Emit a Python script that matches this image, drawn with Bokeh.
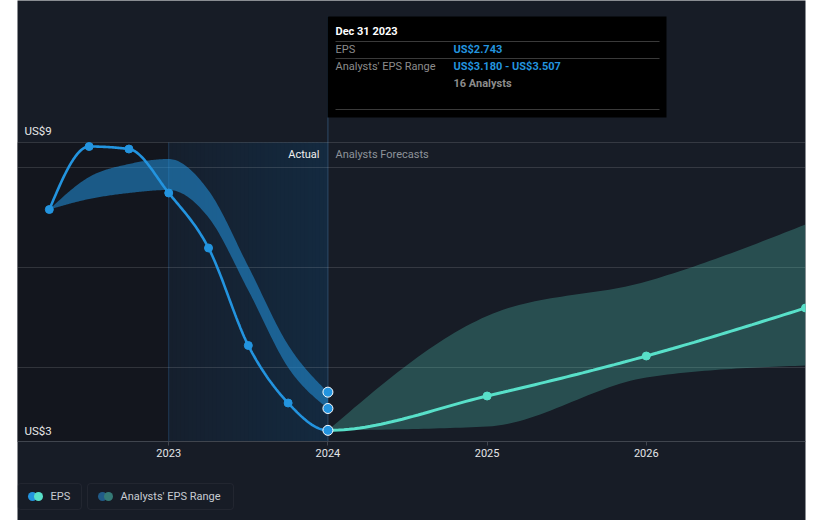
import numpy as np
from bokeh.plotting import figure
from bokeh.models import Range1d, FixedTicker, Grid, LinearAxis, Label, BoxAnnotation
from bokeh.embed import file_html
from bokeh.resources import INLINE

# ---------------- data ----------------
past_dates = [2022.25, 2022.5, 2022.75, 2023.0, 2023.25, 2023.5, 2023.75, 2024.0]
eps_past = [7.16, 8.42, 8.37, 7.49, 6.39, 4.44, 3.29, 2.743]
range_low_past = [7.16, 7.37, 7.49, 7.55, 7.00, 5.54, 4.00, 3.180]
range_high_past = [7.16, 7.81, 8.07, 8.17, 7.54, 6.02, 4.45, 3.507]

fut_dates = [2024.0, 2025.0, 2026.0, 2027.0]
eps_fut = [2.743, 3.43, 4.23, 5.19]
range_low_fut = [2.743, 2.82, 3.80, 4.04]
range_high_fut = [2.743, 5.03, 5.72, 6.86]

x_ticks = [2023, 2024, 2025, 2026]
x_tick_labels = ["2023", "2024", "2025", "2026"]
grid_values = [4, 6, 8, 8.5]
plot_floor = 2.52
plot_top = 8.5
y_top_label = "US$9"
y_bottom_label = "US$3"

tip_title = "Dec 31 2023"
tip_rows = ["EPS", "Analysts' EPS Range"]
tip_values = ["US$2.743", "US$3.180 - US$3.507"]
tip_analysts = "16 Analysts"
legend_labels = ["EPS", "Analysts' EPS Range"]

# ---------------- style ----------------
BG = "#171c26"
DARK = "#13161e"
BLUE = "#2394df"
TEAL = "#58e0c9"
FONT = "Roboto"

W, H = 821, 520
FL, FR = 17, 805          # frame left/right in page pixels
FT, FB = 0, H             # frame top/bottom in page pixels
X0, X1 = 2022.05, 2027.0
PXU = 50.0                # pixels per US$
Y1 = plot_floor + (441 - FT) / PXU
Y0 = plot_floor - (FB - 441) / PXU


def px_x(px):
    return X0 + (px - FL) * (X1 - X0) / (FR - FL)


def px_y(py):
    return Y1 - (py - FT) / PXU


def sx(px):
    return px - FL


def sy(py):
    return FB - py


def monotone_segments(xs, ys, n=30):
    xs = np.asarray(xs, float)
    ys = np.asarray(ys, float)
    h = np.diff(xs)
    s = np.diff(ys) / h
    m = len(xs)
    t = np.zeros(m)
    sg = lambda v: -1.0 if v < 0 else 1.0
    for i in range(1, m - 1):
        p_ = (s[i - 1] * h[i] + s[i] * h[i - 1]) / (h[i - 1] + h[i])
        t[i] = (sg(s[i - 1]) + sg(s[i])) * min(abs(s[i - 1]), abs(s[i]), 0.5 * abs(p_))
    if m > 2:
        t[0] = (3 * s[0] - t[1]) / 2
        t[-1] = (3 * s[-1] - t[-2]) / 2
    else:
        t[:] = s[0]
    segs = []
    u = np.linspace(0, 1, n + 1)
    for i in range(m - 1):
        x0, x1, y0, y1, hh = xs[i], xs[i + 1], ys[i], ys[i + 1], h[i]
        P = [(x0, y0), (x0 + hh / 3, y0 + t[i] * hh / 3), (x1 - hh / 3, y1 - t[i + 1] * hh / 3), (x1, y1)]
        b = [(1 - u) ** 3, 3 * (1 - u) ** 2 * u, 3 * (1 - u) * u ** 2, u ** 3]
        bx = sum(b[k] * P[k][0] for k in range(4))
        by = sum(b[k] * P[k][1] for k in range(4))
        segs.append((bx, by))
    return segs


def join(segs):
    xx = np.concatenate([segs[0][0]] + [q[0][1:] for q in segs[1:]])
    yy = np.concatenate([segs[0][1]] + [q[1][1:] for q in segs[1:]])
    return xx, yy


p = figure(width=W, height=H, output_backend="svg", toolbar_location=None,
           x_range=Range1d(X0, X1), y_range=Range1d(Y0, Y1),
           x_axis_location=None, y_axis_location=None,
           min_border_left=FL, min_border_right=W - FR, min_border_top=0, min_border_bottom=0,
           background_fill_color=BG, border_fill_color=None, outline_line_color=None)
p.xgrid.visible = False
p.ygrid.visible = False

# background regions
p.quad(left=X0, right=x_ticks[0], bottom=plot_floor, top=plot_top, color=DARK, line_color=None, level="image")
c0 = np.array([21, 31, 45])
c1 = np.array([20, 42, 64])
nst = 40
edges = np.linspace(x_ticks[0], past_dates[-1], nst + 1)
wst = edges[1] - edges[0]
rights = np.minimum(edges[1:] + 0.6 * wst, past_dates[-1])
cols = []
for k in range(nst):
    f = (k + 0.5) / nst
    c = np.round(c0 * (1 - f) + c1 * f).astype(int)
    cols.append("#%02x%02x%02x" % tuple(c))
p.quad(left=edges[:-1], right=rights, bottom=plot_floor, top=plot_top, color=cols,
       line_color=None, level="image")
p.segment(x0=[x_ticks[0]], y0=[plot_floor], x1=[x_ticks[0]], y1=[plot_top],
          line_color="#1f3a56", line_width=1, level="image")
p.segment(x0=[past_dates[-1]], y0=[plot_floor], x1=[past_dates[-1]], y1=[px_y(16)],
          line_color="#2d4b68", line_width=1, level="image")

p.add_layout(Grid(dimension=1, ticker=FixedTicker(ticks=grid_values),
                  grid_line_color="white", grid_line_alpha=0.13))

# bands
lo = join(monotone_segments(past_dates, range_low_past))
hi = join(monotone_segments(past_dates, range_high_past))
p.varea(x=lo[0], y1=lo[1], y2=hi[1], fill_color=BLUE, fill_alpha=0.55)
lo_f = join(monotone_segments(fut_dates, range_low_fut))
hi_f = join(monotone_segments(fut_dates, range_high_fut))
p.varea(x=lo_f[0], y1=lo_f[1], y2=hi_f[1], fill_color=TEAL, fill_alpha=0.26)

# EPS line (one monotone curve, split at 2024)
all_x = past_dates + fut_dates[1:]
all_y = eps_past + eps_fut[1:]
segs = monotone_segments(all_x, all_y)
npast = len(past_dates) - 1
px_, py_ = join(segs[:npast])
fx_, fy_ = join(segs[npast:])
p.line(px_, py_, line_color=BLUE, line_width=2.6)
p.line(fx_, fy_, line_color=TEAL, line_width=3)

p.scatter(past_dates[:-1], eps_past[:-1], size=8, fill_color=BLUE, line_color=BLUE)
p.scatter(fut_dates[1:], eps_fut[1:], size=8, fill_color=TEAL, line_color=TEAL)
p.scatter([past_dates[-1]] * 3, [eps_past[-1], range_low_past[-1], range_high_past[-1]],
          size=10, fill_color=BLUE, line_color="white", line_width=1)

# x axis
ax = LinearAxis(fixed_location=plot_floor, ticker=FixedTicker(ticks=x_ticks),
                major_label_overrides={t: l for t, l in zip(x_ticks, x_tick_labels)},
                axis_line_color="#40454e", major_tick_line_color="#40454e",
                major_tick_in=0, major_tick_out=4, minor_tick_line_color=None,
                major_label_text_color="#e3e5e8", major_label_text_font=FONT,
                major_label_text_font_size="11px", major_label_standoff=3)
p.add_layout(ax, "below")


def label(px, py, text, color, size="11px", align="left", style="normal"):
    p.add_layout(Label(x=sx(px), y=sy(py), x_units="screen", y_units="screen", text=text,
                       text_color=color, text_font=FONT, text_font_size=size,
                       text_align=align, text_baseline="middle", text_font_style=style))


def sbox(l, r, t, b, **kw):
    p.add_layout(BoxAnnotation(left=sx(l), right=sx(r), top=sy(t), bottom=sy(b),
                               left_units="screen", right_units="screen", top_units="screen",
                               bottom_units="screen", **kw))


label(24, 130, y_top_label, "#e8e8e8", size="11.5px")
label(24, 430, y_bottom_label, "#e8e8e8", size="11.5px")
label(319, 154, "Actual", "#f0f0f0", align="right")
label(335, 154, "Analysts Forecasts", "#8e939a")

# tooltip box
sbox(327, 666, 16, 117, fill_color="black", fill_alpha=1, line_color=None)
for yy in (41, 58, 109):
    sbox(335, 659, yy - 0.5, yy + 0.5, fill_color="#3a3a3a", fill_alpha=1, line_color=None)
label(335, 31, tip_title, "#ffffff", style="bold")
label(335, 49, tip_rows[0], "#8c8c8c")
label(453, 49, tip_values[0], BLUE, style="bold")
label(335, 66, tip_rows[1], "#8c8c8c")
label(453, 66, tip_values[1], BLUE, style="bold")
label(453, 83, tip_analysts, "#8c8c8c", style="bold")

# legend
for (l, r) in ((17, 81), (87, 233)):
    sbox(l, r, 483, 509, fill_alpha=0, line_color="#3b4049", line_width=1, border_radius=3)
p.scatter([px_x(32)], [px_y(496)], size=9, fill_color=BLUE, line_color=None)
p.scatter([px_x(38)], [px_y(496)], size=9, fill_color=TEAL, line_color=None)
p.scatter([px_x(102)], [px_y(496)], size=9, fill_color="#215b88", line_color=None)
p.scatter([px_x(108)], [px_y(496)], size=9, fill_color="#357a76", line_color=None)
label(50, 496, legend_labels[0], "#c8ccd2")
label(120, 496, legend_labels[1], "#c8ccd2")

html = file_html(p, INLINE)
html = html.replace("<body>", '<body style="background-color:%s;">' % BG, 1)
open("out.html", "w").write(html)
